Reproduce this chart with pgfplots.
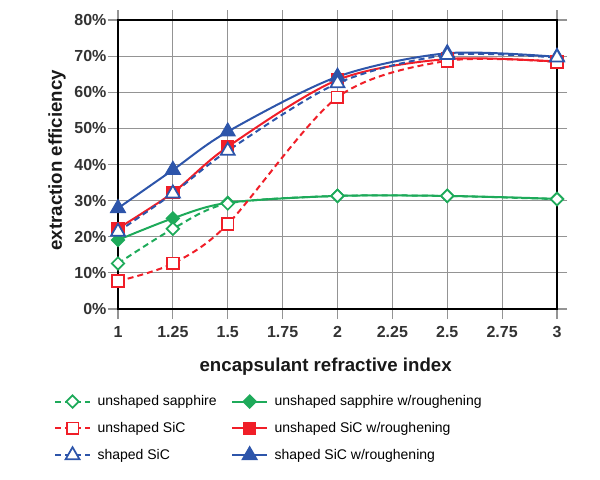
\documentclass[border=0pt]{standalone}
\usepackage{pgfplots}
\pgfplotsset{compat=1.18}
\usepackage{fontspec}
\setmainfont{Liberation Sans}
\definecolor{cgreen}{RGB}{30,170,90}
\definecolor{cred}{RGB}{240,30,40}
\definecolor{cblue}{RGB}{45,85,170}
\pgfplotsset{
  base/.style={line width=1.5pt, smooth, tension=0.5},
  dsh/.style={base, dash pattern=on 4.5pt off 3pt},
  sapph/.style={dsh, cgreen, mark=square*, mark size=3.3pt, mark options={solid, rotate=45, fill=white, line width=1.3pt}},
  sapphR/.style={base, cgreen, mark=square*, mark size=3.3pt, mark options={solid, rotate=45, fill=cgreen, line width=1.3pt}},
  sic/.style={dsh, cred, mark=square*, mark size=4.4pt, mark options={solid, fill=white, line width=1.3pt}},
  sicR/.style={base, cred, mark=square*, mark size=4.4pt, mark options={solid, fill=cred, line width=1.3pt}},
  shp/.style={dsh, cblue, mark=triangle*, mark size=6pt, mark options={solid, fill=white, line width=1.3pt}},
  shpR/.style={base, cblue, mark=triangle*, mark size=6pt, mark options={solid, fill=cblue, line width=1.3pt}},
}
\begin{document}
\begin{tikzpicture}
\path[use as bounding box] (-88.5pt,-127.5pt) rectangle (361.5pt,231.75pt);
\begin{axis}[
  scale only axis, width=329.25pt, height=216.75pt,
  xmin=1, xmax=3, ymin=0, ymax=80,
  xtick={1,1.25,1.5,1.75,2,2.25,2.5,2.75,3},
  xticklabels={1,1.25,1.5,1.75,2,2.25,2.5,2.75,3},
  ytick={0,10,20,30,40,50,60,70,80},
  yticklabels={0\%,10\%,20\%,30\%,40\%,50\%,60\%,70\%,80\%},
  grid=major, grid style={black!42, line width=0.8pt},
  major tick style={black!42, line width=0.8pt},
  tick align=outside, major tick length=7.5pt,
  axis line style={black, line width=1.4pt},
  ticklabel style={font=\bfseries\fontsize{12}{14}\selectfont, text=black!80},
  yticklabel style={inner sep=1pt},
  xticklabel style={yshift=-2pt},
  xlabel={encapsulant refractive index},
  ylabel={extraction efficiency},
  label style={font=\bfseries\fontsize{14}{16}\selectfont, text=black!90},
  xlabel style={at={(axis description cs:0.473,-0.2)}, anchor=center},
  ylabel style={at={(axis description cs:-0.139,0.515)}, anchor=center},
  clip=false,
  legend columns=2,
  legend cell align=left,
  legend style={at={(axis description cs:-0.155,-0.28)}, anchor=north west, draw=none, fill=none,
    font=\fontsize{10.5}{12}\selectfont, row sep=7pt,
    /tikz/every odd column/.append style={column sep=3pt},
    /tikz/every even column/.append style={column sep=9pt}},
  legend image code/.code={\draw[mark repeat=2,mark phase=2,#1] plot coordinates {(0pt,0pt) (13pt,0pt) (26pt,0pt)};},
]
\addlegendimage{sapph}\addlegendentry{unshaped sapphire}
\addlegendimage{sapphR}\addlegendentry{unshaped sapphire w/roughening}
\addlegendimage{sic}\addlegendentry{unshaped SiC}
\addlegendimage{sicR}\addlegendentry{unshaped SiC w/roughening}
\addlegendimage{shp}\addlegendentry{shaped SiC}
\addlegendimage{shpR}\addlegendentry{shaped SiC w/roughening}

\addplot[sapphR, forget plot] coordinates {(1,19.1) (1.25,25.1) (1.5,29.4) (2,31.3) (2.5,31.3) (3,30.5)};
\addplot[sicR, forget plot] coordinates {(1,22.3) (1.25,32.2) (1.5,44.9) (2,63.4) (2.5,69.2) (3,68.5)};
\addplot[shpR, forget plot] coordinates {(1,27.9) (1.25,38.5) (1.5,49.1) (2,64.3) (2.5,70.8) (3,69.8)};
\addplot[sapph, forget plot] coordinates {(1,12.6) (1.25,22.2) (1.5,29.2) (2,31.3) (2.5,31.3) (3,30.4)};
\addplot[sic, forget plot] coordinates {(1,7.7) (1.25,12.6) (1.5,23.5) (2,58.6) (2.5,68.7) (3,68.4)};
\addplot[shp, forget plot] coordinates {(1,21.4) (1.25,32.0) (1.5,43.8) (2,62.5) (2.5,70.3) (3,69.6)};
\end{axis}
\end{tikzpicture}
\end{document}
